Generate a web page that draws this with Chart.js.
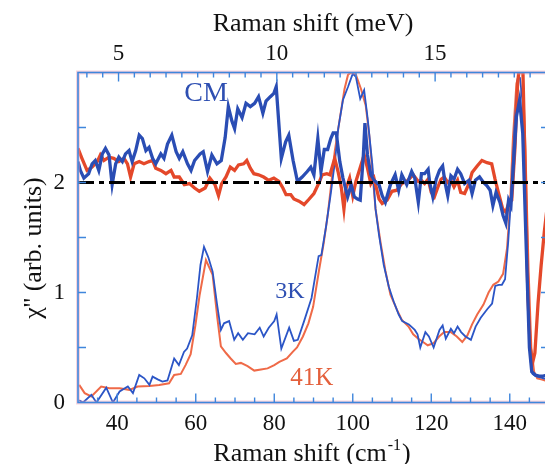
<!DOCTYPE html>
<html>
<head>
<meta charset="utf-8">
<script src="https://cdn.jsdelivr.net/npm/chart.js@4"></script>
<style>
  html, body { margin: 0; padding: 0; overflow: hidden; background: #fff; }
  canvas { display: block; }
</style>
</head>
<body>
<canvas id="grafica" width="560" height="464"></canvas>
<script>
// conversion cm-1 -> meV
const CM_PER_MEV = 8.0655;

// 3K (thin blue)
const cm3K = [30.3, 31.3, 33.4, 34.7, 37.2, 38.9, 40.6, 42.7, 44, 45.6, 46.9, 48.2, 49, 50.3, 51.5, 52.8, 54.5, 55.7, 57, 57.8,
  59.1, 60.3, 61.2, 62.1, 63.2, 64.3, 65.4, 66.4, 67.2, 68.5, 69.8, 70.8, 72, 73.3, 75, 76.3, 77.3, 78.6, 80, 80.6,
  81.8, 83.8, 85, 86, 87.6, 89.5, 91.3, 92, 93.2, 94.4, 95.5, 96.3, 97.5, 98.8, 100, 100.8, 101.9, 102.9, 103.8, 105,
  105.8, 106.7, 107.9, 109.2, 110.4, 111.7, 112.6, 114.3, 115.8, 116.5, 117.2, 118.5, 119.4, 120.6, 122.1, 122.9, 123.7, 125, 125.8, 126.7,
  127.6, 128.7, 130.1, 131.3, 132.6, 134.3, 135.5, 136.3, 137.2, 138, 138.8, 139.6, 140.4, 141.2, 142.1, 142.6, 143.2, 143.8, 144.5, 145.2,
  145.8, 146.6, 147.6, 148.6, 149.6, 151];
const chi3K = [0.02, 0.0, 0.07, 0.0, 0.135, 0.0, 0.1, 0.145, 0.085, 0.25, 0.22, 0.16, 0.235, 0.21, 0.19, 0.2, 0.4, 0.34, 0.46, 0.49,
  0.61, 0.95, 1.25, 1.415, 1.32, 1.19, 0.9, 0.66, 0.72, 0.74, 0.57, 0.63, 0.57, 0.63, 0.62, 0.68, 0.6, 0.68, 0.74, 0.8,
  0.49, 0.68, 0.56, 0.57, 0.74, 0.95, 1.33, 1.34, 1.6, 1.9, 2.2, 2.49, 2.75, 2.87, 2.99, 2.96, 2.76, 2.84, 2.58, 2.16,
  1.76, 1.52, 1.25, 1.05, 0.92, 0.8, 0.74, 0.71, 0.66, 0.62, 0.5, 0.64, 0.6, 0.5, 0.66, 0.7, 0.58, 0.67, 0.63, 0.69,
  0.64, 0.6, 0.57, 0.69, 0.77, 0.85, 0.9, 1.06, 1.07, 1.07, 1.12, 1.46, 1.9, 2.5, 2.97, 2.95, 2.75, 2.0, 1.0, 0.4,
  0.26, 0.24, 0.23, 0.22, 0.21, 0.2];

// 41K (thin red)
const cm41K = [30.3, 31.7, 33.4, 35.9, 38, 40.6, 43.1, 45.2, 48.2, 50.7, 53.2, 54.5, 56.2, 57.4, 58.7, 59.9, 61, 62.6, 64.3, 65.5,
  66.4, 67.7, 68.9, 70.2, 71.5, 73.2, 74.9, 76.6, 78.3, 80, 81.3, 83.2, 84.7, 85.8, 87.3, 88.7, 89.9, 91.4, 92.6, 93.6,
  94.4, 95.4, 96.7, 97.9, 98.8, 99.6, 100.8, 102.1, 103.3, 104.2, 105, 105.8, 107.1, 108.3, 109.6, 111.3, 112.5, 114.2, 115.4, 116.7,
  117.9, 119.1, 120.6, 122, 123.3, 125, 126.5, 127.9, 129.2, 130.4, 131.7, 133.3, 134.6, 135.8, 137.1, 138.3, 139.3, 140, 140.8, 141.7,
  142.5, 143.3, 144, 144.8, 145.5, 146.2, 147, 148, 149, 151];
const chi41K = [0.16, 0.085, 0.055, 0.145, 0.13, 0.13, 0.115, 0.145, 0.15, 0.16, 0.175, 0.25, 0.26, 0.34, 0.44, 0.7, 0.98, 1.295, 1.16, 0.77,
  0.51, 0.45, 0.4, 0.35, 0.36, 0.33, 0.29, 0.3, 0.31, 0.34, 0.37, 0.4, 0.46, 0.5, 0.6, 0.72, 0.87, 1.2, 1.45, 1.7,
  1.95, 2.28, 2.58, 2.85, 2.98, 3.0, 2.98, 2.85, 2.7, 2.43, 2.1, 1.76, 1.45, 1.2, 0.98, 0.84, 0.75, 0.69, 0.62, 0.58,
  0.55, 0.52, 0.54, 0.6, 0.64, 0.64, 0.6, 0.55, 0.61, 0.71, 0.8, 0.89, 1.0, 1.07, 1.1, 1.17, 1.4, 1.75, 2.4, 2.9,
  3.0, 3.0, 2.3, 1.2, 0.5, 0.28, 0.22, 0.21, 0.2, 0.2];

// CM (thick blue)
const cmCMazul = [30, 30.6, 31.5, 32.7, 33.6, 34.4, 35.3, 36.2, 37, 37.9, 38.7, 39.6, 40.4, 41.3, 42.1, 43, 43.8, 44.7, 45.6, 46.4,
  47.3, 48.1, 49, 49.8, 51.1, 51.9, 52.8, 53.9, 55, 55.8, 56.7, 57.9, 58.8, 59.7, 61.1, 61.9, 63, 64.1, 65.4, 66.5,
  67.5, 68.3, 69.2, 69.9, 70.7, 71.8, 72.8, 73.9, 75, 76, 77.1, 77.9, 79, 79.9, 80.5, 81.8, 82.9, 83.7, 84.8, 85.9,
  87.1, 88.4, 89.3, 90.1, 91.1, 91.9, 92.75, 93.6, 94.4, 95, 95.8, 96.7, 97.5, 98.7, 99.6, 100.4, 101.2, 101.9, 102.7, 103.1,
  103.75, 104.6, 105.4, 106.7, 107.5, 108.3, 109.6, 110.8, 111.7, 112.5, 113.75, 115, 115.8, 116.7, 117.5, 118.3, 119.2, 119.6, 120.4, 121.25,
  122.1, 122.9, 123.5, 124.2, 125, 125.8, 126.7, 127.5, 128.5, 129.6, 130.4, 131.25, 132.3, 133.3, 134.2, 135, 135.7, 136.5, 137.5, 138.3,
  139, 139.7, 140.3, 141, 141.7, 142.5, 143.3, 144.2, 145, 145.6, 146.5, 147.5, 148.5, 149.5, 151];
const chiCMazul = [2.19, 2.11, 2.04, 2.08, 2.17, 2.2, 2.11, 2.26, 2.31, 2.25, 1.98, 2.17, 2.23, 2.19, 2.26, 2.29, 2.19, 2.29, 2.43, 2.4,
  2.29, 2.32, 2.22, 2.17, 2.26, 2.22, 2.35, 2.43, 2.28, 2.22, 2.28, 2.17, 2.11, 2.2, 2.26, 2.28, 2.1, 2.25, 2.17, 2.2,
  2.41, 2.69, 2.56, 2.49, 2.67, 2.59, 2.72, 2.69, 2.72, 2.78, 2.63, 2.74, 2.78, 2.81, 2.87, 2.22, 2.37, 2.43, 2.2, 2.01,
  2.05, 2.1, 2.14, 2.07, 2.4, 2.1, 2.3, 2.3, 2.4, 2.45, 2.45, 2.19, 2.04, 1.87, 1.98, 1.87, 1.85, 1.84, 2.25, 2.54,
  2.25, 2.07, 2.02, 1.98, 1.88, 1.82, 1.98, 2.07, 1.93, 2.07, 1.98, 2.1, 2.04, 1.82, 2.08, 2.08, 2.12, 2.0, 1.87, 2.03,
  2.11, 2.15, 2.0, 1.88, 2.06, 2.03, 2.12, 2.08, 1.99, 2.02, 1.9, 2.02, 2.05, 2.0, 1.97, 1.93, 1.79, 1.91, 1.82, 1.7,
  1.63, 1.84, 1.79, 2.2, 2.6, 2.75, 2.45, 1.4, 0.5, 0.28, 0.25, 0.24, 0.24, 0.25, 0.26];

// CM (thick red)
const cmCMrojo = [30, 31, 32.3, 33.6, 34.9, 35.7, 36.6, 37.9, 39.1, 40.4, 41.7, 42.6, 43.4, 44.3, 45.6, 46.8, 48.1, 49, 49.8, 51.1,
  52.4, 53.7, 54.5, 55.8, 57.1, 58.4, 59.7, 60.9, 62.4, 63.6, 64.9, 65.8, 66.6, 67.7, 68.8, 69.9, 70.9, 72.2, 73, 73.9,
  74.8, 76, 77.3, 78.6, 79.9, 81.2, 82.2, 83, 84.2, 85, 86.3, 87.6, 88.9, 90.1, 91.3, 92.2, 93.4, 94.2, 95.4, 96.25,
  97.1, 97.75, 98.3, 99.2, 100, 100.8, 102.1, 102.9, 103.75, 104.6, 105.4, 106.7, 107.5, 108.75, 110, 111.25, 112.5, 113.75, 115.4, 116.7,
  117.5, 118.3, 119.2, 120, 120.8, 121.7, 122.5, 123.3, 124.2, 125, 125.8, 126.7, 127.5, 128.5, 129.6, 130.4, 131.7, 132.9, 134.2, 135.4,
  136.25, 137.1, 138.2, 139, 139.8, 140.5, 141.3, 142, 142.6, 143.3, 144, 144.6, 145.2, 145.8, 146.4, 147.2, 148, 148.8, 149.6, 150.5, 151.5];
const chiCMrojo = [2.31, 2.22, 2.11, 2.14, 2.19, 2.25, 2.2, 2.23, 2.22, 2.19, 2.22, 2.17, 2.05, 2.17, 2.19, 2.17, 2.19, 2.2, 2.13, 2.11,
  2.08, 2.11, 2.05, 2.05, 1.98, 1.99, 1.95, 1.92, 1.95, 2.04, 1.98, 1.88, 1.99, 2.05, 2.14, 2.11, 2.16, 2.17, 2.2, 2.13,
  2.08, 2.07, 2.05, 2.02, 2.04, 2.01, 1.95, 1.89, 1.89, 1.85, 1.83, 1.8, 1.85, 1.9, 1.99, 2.07, 2.08, 2.07, 2.22, 2.1,
  1.95, 1.76, 1.95, 2.04, 1.88, 2.01, 2.16, 2.25, 2.13, 1.99, 2.04, 1.85, 1.81, 1.84, 1.92, 1.93, 1.99, 2.01, 2.07, 2.01,
  2.02, 1.99, 2.03, 1.91, 1.87, 1.96, 2.03, 2.05, 2.0, 2.02, 1.96, 2.02, 1.91, 1.9, 1.99, 2.09, 2.15, 2.2, 2.18, 2.17,
  2.03, 1.91, 1.76, 1.73, 1.82, 1.84, 2.3, 2.9, 3.1, 3.1, 2.0, 1.0, 0.5, 0.36, 0.45, 0.9, 1.25, 1.55, 1.8, 2.0, 2.1];

// linea de referencia en 2
const refX = [30, 151];
const refY = [2, 2];

// ejes
const X_MIN = 30, X_MAX = 150.25;
const Y_MIN = 0, Y_MAX = 3;
const xTickLabels = [40, 60, 80, 100, 120, 140];
const meVTickLabels = [5, 10, 15];
const yTickLabels = [0, 1, 2];

// etiquetas de curvas
const etiquetas = [
  { texto: 'CM', x: 57.1, y: 2.74, color: '#2e4fb2', size: 28 },
  { texto: '3K', x: 80.25, y: 0.947, color: '#2e4fb2', size: 24 },
  { texto: '41K', x: 84.1, y: 0.16, color: '#e4603c', size: 25 }
];

const FUENTE = "'Liberation Serif', 'DejaVu Serif', serif";
const AZUL_EJE = '#3f86dc';
const NEGRO = '#111';

function puntos(xs, ys) {
  return xs.map((x, i) => ({ x: x, y: ys[i] }));
}

const marcoPlugin = {
  id: 'marco',
  afterDatasetsDraw(chart) {
    const { ctx, chartArea: a, scales } = chart;
    ctx.save();
    // brillo rosado del marco
    ctx.strokeStyle = 'rgba(240,160,180,0.45)';
    ctx.lineWidth = 4;
    ctx.strokeRect(a.left, a.top, a.right - a.left, a.bottom - a.top);
    ctx.strokeStyle = AZUL_EJE;
    ctx.lineWidth = 1.6;
    ctx.strokeRect(a.left, a.top, a.right - a.left, a.bottom - a.top);

    ctx.lineWidth = 1.4;
    ctx.beginPath();
    // ticks inferiores cada 5 cm-1
    for (let v = 35; v <= 150; v += 5) {
      const px = scales.x.getPixelForValue(v);
      const len = v % 20 === 0 ? 9 : 5;
      ctx.moveTo(px, a.bottom); ctx.lineTo(px, a.bottom - len);
    }
    // ticks superiores cada 0.5 meV
    for (let m = 4; m <= 18.5; m += 0.5) {
      const px = scales.x2.getPixelForValue(m);
      if (px < a.left + 2 || px > a.right - 2) continue;
      const len = m % 5 === 0 ? 9 : 5;
      ctx.moveTo(px, a.top); ctx.lineTo(px, a.top + len);
    }
    // ticks verticales
    for (let v = 0.5; v <= 2.5; v += 0.5) {
      const py = scales.y.getPixelForValue(v);
      ctx.moveTo(a.left, py); ctx.lineTo(a.left + 8, py);
      ctx.moveTo(a.right, py); ctx.lineTo(a.right - 9, py);
    }
    ctx.stroke();

    // etiquetas de curvas
    ctx.textAlign = 'left';
    ctx.textBaseline = 'alphabetic';
    etiquetas.forEach(e => {
      ctx.fillStyle = e.color;
      ctx.font = `${e.size}px ${FUENTE}`;
      ctx.fillText(e.texto, scales.x.getPixelForValue(e.x), scales.y.getPixelForValue(e.y));
    });

    // titulos de ejes
    ctx.fillStyle = NEGRO;
    ctx.font = `26px ${FUENTE}`;
    ctx.textAlign = 'center';
    ctx.fillText('Raman shift (meV)', 313, 31);

    // titulo inferior con superindice
    const base = 'Raman shift (cm';
    const sup = '-1';
    const fin = ')';
    ctx.font = `26px ${FUENTE}`;
    const wBase = ctx.measureText(base).width;
    const wFin = ctx.measureText(fin).width;
    ctx.font = `16px ${FUENTE}`;
    const wSup = ctx.measureText(sup).width;
    let x0 = 311 - (wBase + wSup + wFin) / 2;
    ctx.textAlign = 'left';
    ctx.font = `26px ${FUENTE}`;
    ctx.fillText(base, x0, 461);
    ctx.font = `16px ${FUENTE}`;
    ctx.fillText(sup, x0 + wBase + 1, 450);
    ctx.font = `26px ${FUENTE}`;
    ctx.fillText(fin, x0 + wBase + wSup + 2, 461);

    // titulo vertical
    ctx.translate(41, 248);
    ctx.rotate(-Math.PI / 2);
    ctx.textAlign = 'center';
    ctx.fillText("\u03C7'' (arb. units)", 0, 0);
    ctx.restore();
  }
};

const fuenteTicks = { family: FUENTE, size: 23 };

new Chart(document.getElementById('grafica').getContext('2d'), {
  type: 'line',
  data: {
    datasets: [
      { label: 'ref', data: puntos(refX, refY), borderColor: '#000', borderWidth: 3, borderDash: [16, 5, 5, 5], pointRadius: 0 },
      { label: 'CM azul', data: puntos(cmCMazul, chiCMazul), borderColor: '#2a4db4', borderWidth: 3.3, pointRadius: 0 },
      { label: 'CM rojo', data: puntos(cmCMrojo, chiCMrojo), borderColor: '#e4482a', borderWidth: 3.3, pointRadius: 0 },
      { label: '3K', data: puntos(cm3K, chi3K), borderColor: '#2b55c6', borderWidth: 1.8, pointRadius: 0 },
      { label: '41K', data: puntos(cm41K, chi41K), borderColor: '#ef6a48', borderWidth: 2, pointRadius: 0 }
    ]
  },
  options: {
    responsive: false,
    animation: false,
    layout: { padding: 0 },
    elements: { line: { tension: 0 } },
    plugins: { legend: { display: false }, tooltip: { enabled: false } },
    scales: {
      x: {
        type: 'linear', position: 'bottom', min: X_MIN, max: X_MAX,
        afterBuildTicks: s => { s.ticks = xTickLabels.map(v => ({ value: v })); },
        afterFit: s => { s.height = 61.5; },
        grid: { display: false, drawTicks: false },
        border: { display: false },
        ticks: { font: fuenteTicks, color: NEGRO, padding: 8, maxRotation: 0, autoSkip: false }
      },
      x2: {
        type: 'linear', position: 'top', min: X_MIN / CM_PER_MEV, max: X_MAX / CM_PER_MEV,
        afterBuildTicks: s => { s.ticks = meVTickLabels.map(v => ({ value: v })); },
        afterFit: s => { s.height = 72.5; },
        grid: { display: false, drawTicks: false },
        border: { display: false },
        ticks: { font: fuenteTicks, color: NEGRO, padding: 5, maxRotation: 0, autoSkip: false }
      },
      y: {
        type: 'linear', position: 'left', min: Y_MIN, max: Y_MAX,
        afterBuildTicks: s => { s.ticks = yTickLabels.map(v => ({ value: v })); },
        afterFit: s => { s.width = 78; },
        grid: { display: false, drawTicks: false },
        border: { display: false },
        ticks: { font: fuenteTicks, color: NEGRO, padding: 13 }
      },
      y2: {
        type: 'linear', position: 'right', min: Y_MIN, max: Y_MAX,
        afterFit: s => { s.width = 10; },
        grid: { display: false, drawTicks: false },
        border: { display: false },
        ticks: { display: false }
      }
    }
  },
  plugins: [marcoPlugin]
});
</script>
</body>
</html>
